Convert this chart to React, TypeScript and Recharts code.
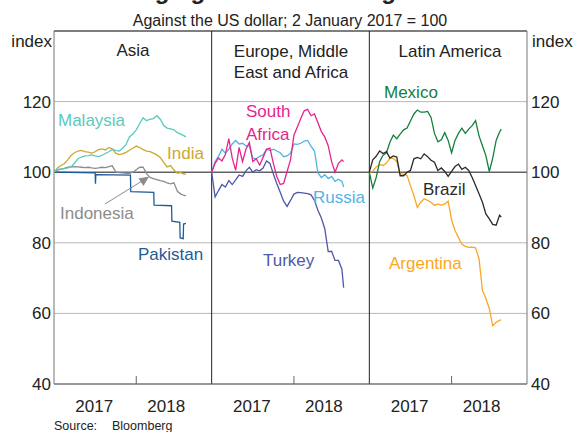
import React from 'react';
import { LineChart, Line, XAxis, YAxis, CartesianGrid, ReferenceLine } from 'recharts';

// months since 2 Jan 2017, shared by every series except Pakistan
const months = [0, 0.5, 1, 1.5, 2, 2.5, 3, 3.5, 4, 4.5, 5, 5.5, 6, 6.5, 7, 7.5, 8, 8.5, 9, 9.5, 10, 10.5, 11, 11.5, 12, 12.5, 13, 13.5, 14, 14.5, 15, 15.5, 16, 16.5, 17, 17.5, 18, 18.5, 19, 19.25];

// Asia
const malaysia = [100, 100.8, 100.9, 101, 101.2, 101.5, 102.6, 103.8, 104.3, 104.6, 104.7, 104.9, 104.6, 104.4, 104.8, 105.3, 105.8, 106.5, 106.2, 106, 106.8, 107.8, 110, 110.8, 112, 113.8, 115.4, 114.6, 115, 115.2, 116, 115, 113.2, 112.5, 112.3, 112, 111.2, 110.8, 110.3, 110];
const india = [100, 101.2, 101.9, 102.4, 103.5, 104.8, 105.5, 106, 106.2, 105.8, 105.7, 105.4, 105.8, 106.4, 106.6, 106.3, 107, 106.6, 105.4, 105, 105.2, 105.6, 106.2, 106.8, 107.4, 107, 106.4, 106, 105.8, 105.4, 104.9, 104.2, 102.8, 101.5, 101.9, 100.6, 99.7, 99.9, 99.4, 99.6];
const indonesia = [100, 100.6, 100.9, 101.1, 101.4, 101.5, 101.6, 101.5, 101.4, 101.3, 101.4, 101.2, 101.1, 101.2, 101.4, 101.3, 101.6, 101.8, 100.1, 99.9, 99.8, 99.7, 99.7, 100, 100.7, 101.4, 101.4, 99.6, 98.5, 98.2, 97.9, 97.6, 97.4, 97, 96.7, 97, 94.6, 93.8, 93.4, 93.3];
// Pakistan moves in steps, so it gets its own dates
const pakistanMonths = [0, 6.0, 6.05, 6.1, 6.15, 11.15, 11.2, 14.55, 14.6, 17.15, 17.2, 18.35, 18.4, 18.85, 18.9, 19.25];
const pakistan = [100, 99.8, 96.7, 99.3, 99.3, 99.2, 94.5, 94.3, 90.7, 90.5, 86.1, 85.8, 81.4, 81.2, 85.3, 85.5];

// Europe, Middle East and Africa
const southAfrica = [100, 102.5, 104, 103.2, 105, 109.5, 104, 100.5, 107, 103, 106.5, 108.4, 103, 103.8, 102, 104.2, 106.5, 106.8, 102.5, 98.8, 96.5, 96.8, 100.2, 103.5, 110.5, 112.8, 115.2, 117.4, 117.8, 116, 116.5, 114, 111.5, 110, 107.5, 103, 100, 102.5, 103.5, 103];
const russia = [100, 103, 104.5, 106.5, 105.4, 106.5, 108, 109, 108, 108.2, 107.5, 107.5, 104, 103.8, 104.5, 104.9, 106.5, 106.1, 106.5, 106, 105.5, 104.4, 104.6, 105.4, 108, 107.9, 108.2, 108.8, 109, 107.3, 106, 99.8, 98.5, 99.3, 98.2, 98.8, 97.4, 98, 97.4, 95.8];
const turkey = [100, 93, 94.8, 96.5, 95.8, 97.6, 96.5, 97.8, 99.2, 98.8, 100.4, 101.4, 100, 100.7, 100.4, 101.2, 103.2, 102.5, 99.5, 96.8, 94.3, 91.8, 90.3, 92, 93.8, 94.3, 94.2, 94.1, 93.9, 93.6, 92, 89.2, 87, 84, 77.5, 77.6, 75, 75, 72.5, 67.3];

// Latin America
const mexico = [100, 95.5, 98.5, 103, 104.8, 105.5, 108.5, 110.5, 109.5, 110.8, 112, 112.5, 114.5, 116.5, 117.6, 117, 117, 117.2, 115.5, 111, 108.6, 109.2, 111.2, 109, 105.5, 109, 111, 112.5, 111, 112.2, 113.2, 114.6, 110.3, 107.5, 104.7, 100.2, 104, 109, 111.4, 112.2];
const brazil = [100, 103.5, 104.5, 106, 105.3, 105.8, 104, 104.6, 104.3, 99, 99, 100, 100.5, 103.8, 104.2, 103.8, 105.2, 104.4, 103.4, 102.8, 100.5, 101.2, 100.2, 98.8, 100.2, 101.6, 102.3, 100.8, 101.4, 100.5, 98.5, 96.2, 93.9, 91.5, 88.2, 86.8, 85.2, 85, 87.8, 87.3];
const argentina = [100, 100.2, 101.5, 102.2, 101.9, 102.6, 104, 103.9, 103, 99.5, 99.4, 99.1, 96.2, 93.4, 90, 91.5, 92.5, 92, 91.5, 90.6, 91, 90.6, 91, 91.8, 86.5, 83.5, 81.5, 79.6, 79, 78.7, 78.8, 78.6, 75.5, 66.5, 64.2, 61.4, 56.5, 57.5, 58, 58.2];

const panelTitles = ['Asia', 'Europe, Middle', 'East and Africa', 'Latin America'];
const yearLabels = ['2017', '2018'];
const yTicks = [40, 60, 80, 100, 120];

const PANEL = 23; // months of x-axis per panel
const FONT = '"Liberation Sans", Arial, sans-serif';

const build = (xs: number[], ys: number[], panel: number) =>
  xs.map((m, i) => ({ x: panel * PANEL + m, v: ys[i] }));

const series = [
  { name: 'Indonesia', data: build(months, indonesia, 0), color: '#8c8c8c' },
  { name: 'Pakistan', data: build(pakistanMonths, pakistan, 0), color: '#1f5c96' },
  { name: 'India', data: build(months, india, 0), color: '#c9a932' },
  { name: 'Malaysia', data: build(months, malaysia, 0), color: '#5cc9be' },
  { name: 'Turkey', data: build(months, turkey, 1), color: '#4f58a9' },
  { name: 'Russia', data: build(months, russia, 1), color: '#52b4e4' },
  { name: 'South Africa', data: build(months, southAfrica, 1), color: '#e5258d' },
  { name: 'Argentina', data: build(months, argentina, 2), color: '#f7a823' },
  { name: 'Mexico', data: build(months, mexico, 2), color: '#13803f' },
  { name: 'Brazil', data: build(months, brazil, 2), color: '#2a2a2a' },
];

const YearTick = (props: any) => {
  const { x, y } = props;
  return (
    <g>
      <line x1={x} x2={x} y1={y - 8} y2={y} stroke="#666" />
      <text x={x - 42} y={y + 28} textAnchor="middle" fontSize={17} fill="#222" fontFamily={FONT}>{yearLabels[0]}</text>
      <text x={x + 30} y={y + 28} textAnchor="middle" fontSize={17} fill="#222" fontFamily={FONT}>{yearLabels[1]}</text>
    </g>
  );
};

const label = (text: string, x: number, y: number, color: string, anchor: 'start' | 'middle' | 'end' = 'start', size = 17) => (
  <text key={text + x} x={x} y={y} fill={color} fontSize={size} textAnchor={anchor} fontFamily={FONT}>{text}</text>
);

export default function App() {
  return (
    <div style={{ position: 'absolute', left: 0, top: 0, width: 577, height: 432, overflow: 'hidden', background: '#fff' }}>
      <LineChart width={577} height={432} margin={{ top: 31, right: 4, bottom: 18, left: 8 }} style={{ fontFamily: FONT }}>
        <CartesianGrid vertical={false} stroke="#b8b8b8" />
        <XAxis
          type="number"
          dataKey="x"
          domain={[0, PANEL * 3]}
          ticks={[12, PANEL + 12, PANEL * 2 + 12]}
          tick={<YearTick />}
          tickLine={false}
          tickSize={0}
          tickMargin={0}
          height={30}
          stroke="#555"
          allowDataOverflow
        />
        <YAxis
          domain={[40, 140]}
          ticks={yTicks}
          width={46}
          tickLine={false}
          tickSize={0}
          tickMargin={3}
          stroke="#777"
          tick={{ fontSize: 17, fill: '#222', fontFamily: FONT }}
          allowDataOverflow
        />
        <YAxis
          yAxisId="r"
          orientation="right"
          domain={[40, 140]}
          ticks={yTicks}
          width={46}
          tickLine={false}
          tickSize={0}
          tickMargin={4}
          stroke="#777"
          tick={{ fontSize: 17, fill: '#222', textAnchor: 'start', fontFamily: FONT }}
          allowDataOverflow
        />
        <ReferenceLine y={140} stroke="#222" />
        <ReferenceLine x={PANEL} stroke="#222" />
        <ReferenceLine x={PANEL * 2} stroke="#222" />
        <ReferenceLine y={100} stroke="#333" />
        {series.map((s) => (
          <Line
            key={s.name}
            data={s.data}
            dataKey="v"
            name={s.name}
            type="linear"
            stroke={s.color}
            strokeWidth={1.3}
            dot={false}
            isAnimationActive={false}
          />
        ))}
      </LineChart>
      <svg width={577} height={432} style={{ position: 'absolute', left: 0, top: 0, pointerEvents: 'none' }}>
        <text x={288} y={-1} textAnchor="middle" fontSize={24} fontWeight="bold" fill="#222" fontFamily={FONT}>Emerging Market Exchange Rates</text>
        {label('Against the US dollar; 2 January 2017 = 100', 290, 26, '#222', 'middle', 16)}
        {label('index', 52, 46.5, '#222', 'end')}
        {label('index', 532, 46.5, '#222', 'start')}
        {label(panelTitles[0], 133, 56, '#222', 'middle')}
        {label(panelTitles[1], 291, 57, '#222', 'middle')}
        {label(panelTitles[2], 291, 78, '#222', 'middle')}
        {label(panelTitles[3], 450, 57, '#222', 'middle')}
        {label('Malaysia', 58, 126, '#5cc9be')}
        {label('India', 167, 159, '#c9a932')}
        {label('Indonesia', 60, 219, '#8c8c8c')}
        {label('Pakistan', 138, 260, '#1f5c96')}
        <line x1={105} y1={204} x2={142} y2={181} stroke="#8c8c8c" strokeWidth={1} />
        <polygon points="149,176.5 138.5,178.5 143.5,186" fill="#8c8c8c" />
        {label('South', 246, 117, '#e5258d')}
        {label('Africa', 246, 140, '#e5258d')}
        {label('Russia', 313, 203, '#52b4e4')}
        {label('Turkey', 263, 266, '#4f58a9')}
        {label('Mexico', 384, 98, '#13803f')}
        {label('Brazil', 423, 195, '#2a2a2a')}
        {label('Argentina', 389, 269, '#f7a823')}
        {label('Source:', 54, 430, '#222', 'start', 12.5)}
        {label('Bloomberg', 112, 430, '#222', 'start', 12.5)}
      </svg>
    </div>
  );
}
